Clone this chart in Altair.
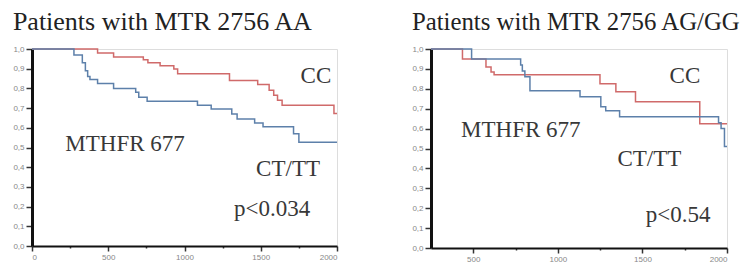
import altair as alt
import pandas as pd

# ---- data ----
groups = ["CC", "CT/TT"]

# Left panel: Patients with MTR 2756 AA
left_cc_t = [0, 430, 535, 730, 760, 840, 930, 955, 1295, 1480, 1555, 1585, 1610, 1640, 1980, 2000]
left_cc_s = [1.0, 0.98, 0.96, 0.945, 0.93, 0.915, 0.898, 0.875, 0.84, 0.82, 0.79, 0.765, 0.74, 0.715, 0.672, 0.672]
left_ct_t = [0, 275, 330, 350, 365, 380, 430, 535, 680, 700, 755, 1085, 1175, 1310, 1345, 1460, 1515, 1715, 1750, 2000]
left_ct_s = [1.0, 0.97, 0.93, 0.89, 0.86, 0.845, 0.825, 0.80, 0.78, 0.755, 0.735, 0.715, 0.695, 0.67, 0.645, 0.625, 0.605, 0.57, 0.527, 0.527]

# Right panel: Patients with MTR 2756 AG/GG
right_cc_t = [250, 436, 575, 605, 623, 1249, 1343, 1459, 1839, 2000]
right_cc_s = [1.0, 0.95, 0.91, 0.885, 0.87, 0.825, 0.785, 0.735, 0.625, 0.625]
right_ct_t = [250, 490, 780, 790, 805, 835, 1131, 1254, 1283, 1365, 1950, 1965, 1985, 2000]
right_ct_s = [1.0, 0.95, 0.92, 0.89, 0.86, 0.79, 0.76, 0.71, 0.69, 0.66, 0.63, 0.60, 0.51, 0.51]

titles = ["Patients with MTR 2756 AA", "Patients with MTR 2756 AG/GG"]
p_values = ["p<0.034", "p<0.54"]
gene_label = "MTHFR 677"

RED = "#d06a6a"
BLUE = "#5d80aa"
SERIF = "Liberation Serif"


def frame(cc_t, cc_s, ct_t, ct_s):
    rows = [{"t": t, "s": s, "g": groups[0]} for t, s in zip(cc_t, cc_s)]
    rows += [{"t": t, "s": s, "g": groups[1]} for t, s in zip(ct_t, ct_s)]
    return pd.DataFrame(rows)


y_vals = [round(i * 0.1, 1) for i in range(11)]


def panel(df, xdom, xticks, w, h, title, ann, title_offset, title_size):
    x_axis = alt.Axis(
        values=xticks, format="d",
        labelExpr="datum.value % 500 === 0 ? datum.label : ''",
        tickSize={"condition": {"test": "datum.value % 500 !== 0", "value": 2}, "value": 5},
        labelFont="Liberation Sans", labelFontSize=8, labelColor="#888",
        tickColor="#333", tickWidth=1.5, domainColor="#111", domainWidth=2,
        grid=False, title=None, labelPadding=2, labelOverlap=False,
    )
    y_axis = alt.Axis(
        values=y_vals,
        labelExpr="replace(format(datum.value, '.1f'), '.', ',')",
        tickSize=6, labelFont="Liberation Sans", labelFontSize=8, labelColor="#888",
        tickColor="#333", tickWidth=1.5, domainColor="#111", domainWidth=3,
        grid=False, title=None, labelPadding=2, labelOverlap=False,
    )
    xs = alt.Scale(domain=xdom, nice=False, zero=False)
    ys = alt.Scale(domain=[0, 1], nice=False)
    lines = alt.Chart(df).mark_line(interpolate="step-after", strokeWidth=1.5).encode(
        x=alt.X("t:Q", scale=xs, axis=x_axis),
        y=alt.Y("s:Q", scale=ys, axis=y_axis),
        color=alt.Color("g:N", scale=alt.Scale(domain=groups, range=[RED, BLUE]), legend=None),
    )
    layers = [lines]
    for txt, tx, ty in ann:
        layers.append(
            alt.Chart().mark_text(font=SERIF, fontSize=23, color="#383838").encode(
                x=alt.XDatum(tx, type="quantitative", scale=xs, axis=x_axis),
                y=alt.YDatum(ty, type="quantitative", scale=ys, axis=y_axis),
                text=alt.datum(txt),
            )
        )
    return alt.layer(*layers).properties(
        width=w, height=h,
        title=alt.TitleParams(title, anchor="start", frame="bounds", font=SERIF,
                              fontSize=title_size, fontWeight="normal", color="#222",
                              offset=title_offset),
    )


left = panel(
    frame(left_cc_t, left_cc_s, left_ct_t, left_ct_s),
    [0, 2000], [0, 250, 500, 750, 1000, 1250, 1500, 1750, 2000], 305, 197, titles[0],
    [(groups[0], 1862, 0.863), (gene_label, 610, 0.518), (groups[1], 1679, 0.391), (p_values[0], 1574, 0.188)],
    10, 26,
)
right = panel(
    frame(right_cc_t, right_cc_s, right_ct_t, right_ct_s),
    [250, 2000], [500, 750, 1000, 1250, 1500, 1750, 2000], 296, 199, titles[1],
    [(groups[0], 1751, 0.864), (gene_label, 781, 0.593), (groups[1], 1541, 0.447), (p_values[1], 1711, 0.166)],
    10, 24.8,
)

chart = alt.hconcat(left, right, spacing=70).properties(
    padding={"left": 4, "top": 0, "right": 0, "bottom": 0}
).configure_view(stroke="#222", strokeWidth=1.5).configure(background="white")

chart.save("out.html", embed_options={"renderer": "svg", "actions": False})
